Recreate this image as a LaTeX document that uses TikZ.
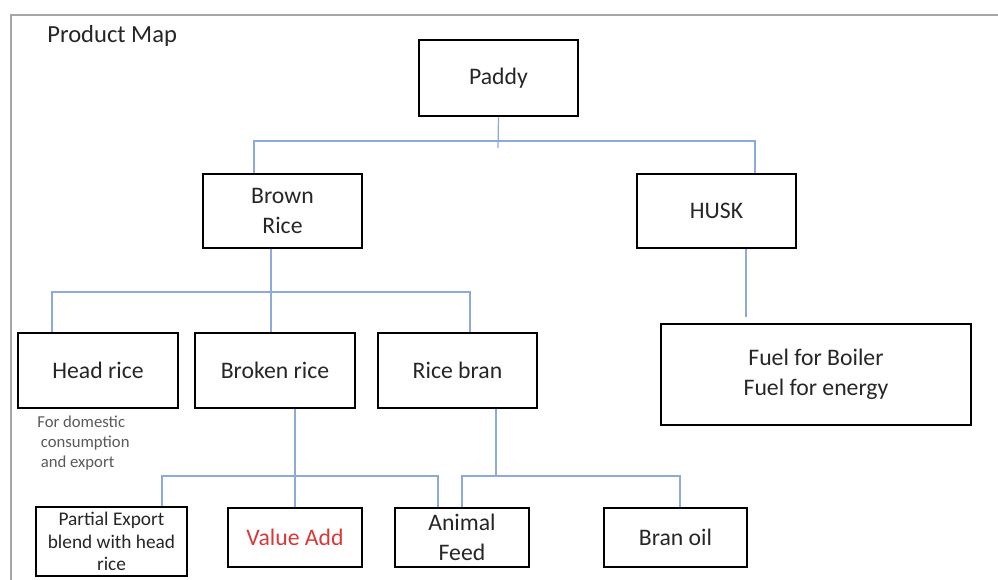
\documentclass[tikz,border=0pt]{standalone}
\usepackage{fontspec}
\setmainfont{Carlito}
\definecolor{linkblue}{HTML}{8EAADB}
\definecolor{textgray}{HTML}{262626}
\definecolor{notegray}{HTML}{595959}
\definecolor{addred}{HTML}{D93838}
\begin{document}
\begin{tikzpicture}[x=0.02cm, y=-0.02cm,
  box/.style={draw, line width=1.1pt, inner sep=0pt, align=center, text=textgray,
    font=\fontsize{13.5}{17}\selectfont},
  link/.style={draw=linkblue, line width=0.7pt}]
  \useasboundingbox (0,0) rectangle (998,580);
  \draw[gray!70, line width=0.8pt] (11,580) -- (11,15) -- (998,15);
  \node[anchor=west, inner sep=0pt, text=textgray, font=\fontsize{14}{17}\selectfont] (title) at (47,36) {Product Map};

  \node[box, minimum width=3.18cm, minimum height=1.52cm] (paddy) at (498.5,78) {Paddy};
  \node[box, minimum width=3.18cm, minimum height=1.48cm] (brown) at (282.5,211) {Brown\\Rice};
  \node[box, minimum width=3.18cm, minimum height=1.48cm] (husk) at (716.5,211) {HUSK};
  \node[box, minimum width=3.2cm, minimum height=1.5cm] (head) at (98,370.5) {Head rice};
  \node[box, minimum width=3.2cm, minimum height=1.5cm] (broken) at (275,370.5) {Broken rice};
  \node[box, minimum width=3.18cm, minimum height=1.5cm] (bran) at (457.5,370.5) {Rice bran};
  \node[box, minimum width=6.2cm, minimum height=2.02cm] (fuel) at (816,374.5) {Fuel for Boiler\\Fuel for energy};
  \node[box, minimum width=3.02cm, minimum height=1.38cm, font=\fontsize{11}{13}\selectfont] (partial) at (111.5,541.5) {Partial Export\\blend with head\\rice};
  \node[box, minimum width=2.68cm, minimum height=1.18cm, text=addred] (value) at (295,537.5) {Value Add};
  \node[box, minimum width=2.68cm, minimum height=1.18cm] (feed) at (462,537.5) {Animal\\Feed};
  \node[box, minimum width=2.86cm, minimum height=1.18cm] (oil) at (675.5,537.5) {Bran oil};

  \node[anchor=north west, inner sep=0pt, align=left, text=notegray,
    font=\fontsize{9.5}{11.3}\selectfont] (note) at (37,416)
    {For domestic\\\hspace*{2pt}consumption\\\hspace*{2pt}and export};

  \coordinate (p1) at (498,148);
  \coordinate (b1) at (254,141);
  \coordinate (b2) at (755,141);
  \coordinate (c1) at (271,292);
  \coordinate (c2) at (52,292);
  \coordinate (c3) at (470,292);
  \coordinate (h1) at (746,317);
  \coordinate (d1) at (162,476);
  \coordinate (d2) at (438,476);
  \coordinate (e1) at (496,476);
  \coordinate (e3) at (680,476);

  \draw[link] (paddy.south) -- (p1);
  \draw[link] (brown.north -| b1) |- (b2) -- (husk.north -| b2);
  \draw[link] (brown.south -| c1) -- (broken.north -| c1);
  \draw[link] (head.north -| c2) |- (c3) -- (bran.north -| c3);
  \draw[link] (husk.south -| h1) -- (h1);
  \draw[link] (broken.south -| value.north) -- (value.north);
  \draw[link] (partial.north -| d1) |- (d2) -- (feed.north -| d2);
  \draw[link] (bran.south -| e1) -- (e1);
  \draw[link] (feed.north) |- (e3) -- (oil.north -| e3);
\end{tikzpicture}
\end{document}
